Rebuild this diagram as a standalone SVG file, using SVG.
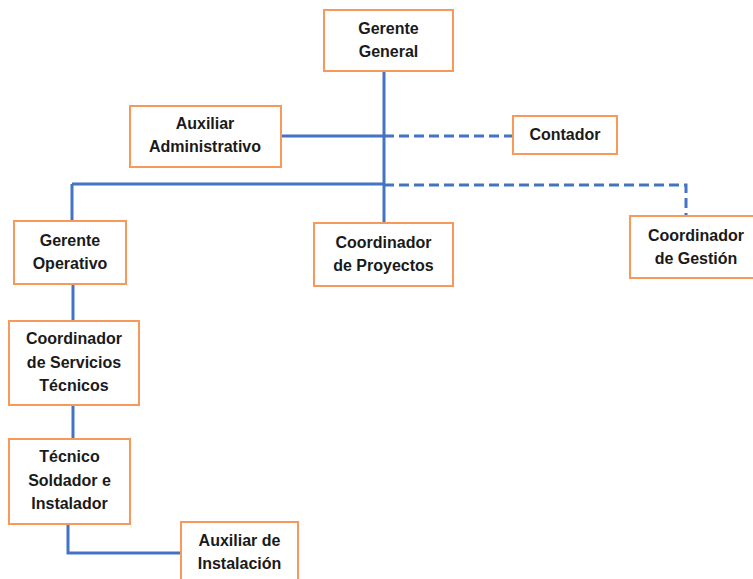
<svg xmlns="http://www.w3.org/2000/svg" width="753" height="579" viewBox="0 0 753 579">
<style>
.box{fill:#fff;stroke:#F59A5B;stroke-width:2}
.t{font-family:"Liberation Sans",Arial,sans-serif;font-weight:bold;font-size:16px;fill:#1a1a1a;text-anchor:middle}
.ln{fill:none;stroke:#4472C4;stroke-width:3}
.dl{fill:none;stroke:#4472C4;stroke-width:3;stroke-dasharray:10 5}
</style>
<rect width="753" height="579" fill="#fff"/>
<g id="connectors">
<path class="ln" d="M384 71V223"/>
<path class="ln" d="M281 136H384"/>
<path class="dl" d="M384 136H513"/>
<path class="ln" d="M72 184H384"/>
<path class="ln" d="M72 184V221"/>
<path class="dl" d="M384 185H686V216"/>
<path class="ln" d="M73 284V321"/>
<path class="ln" d="M73 405V439"/>
<path class="ln" d="M68 524V553H181"/>
</g>
<g id="gerente-general"><rect class="box" x="324" y="10" width="129" height="61"/><text class="t" x="388.5" y="34">Gerente</text><text class="t" x="388.5" y="57">General</text></g>
<g id="auxiliar-administrativo"><rect class="box" x="130" y="106" width="151" height="61"/><text class="t" x="205" y="129">Auxiliar</text><text class="t" x="205" y="152">Administrativo</text></g>
<g id="contador"><rect class="box" x="513" y="116" width="104" height="38"/><text class="t" x="565" y="140">Contador</text></g>
<g id="gerente-operativo"><rect class="box" x="14" y="221" width="112" height="63"/><text class="t" x="70" y="246">Gerente</text><text class="t" x="70" y="269">Operativo</text></g>
<g id="coordinador-proyectos"><rect class="box" x="314" y="223" width="139" height="63"/><text class="t" x="383.5" y="248">Coordinador</text><text class="t" x="383.5" y="271">de Proyectos</text></g>
<g id="coordinador-gestion"><rect class="box" x="630" y="216" width="130" height="62"/><text class="t" x="696" y="241">Coordinador</text><text class="t" x="696" y="264">de Gestión</text></g>
<g id="coordinador-servicios"><rect class="box" x="9" y="321" width="130" height="84"/><text class="t" x="74" y="344">Coordinador</text><text class="t" x="74" y="368">de Servicios</text><text class="t" x="74" y="391">Técnicos</text></g>
<g id="tecnico-soldador"><rect class="box" x="9" y="439" width="121" height="85"/><text class="t" x="69.5" y="462">Técnico</text><text class="t" x="69.5" y="486">Soldador e</text><text class="t" x="69.5" y="509">Instalador</text></g>
<g id="auxiliar-instalacion"><rect class="box" x="181" y="522" width="117" height="70"/><text class="t" x="239.5" y="546">Auxiliar de</text><text class="t" x="239.5" y="569">Instalación</text></g>
</svg>
